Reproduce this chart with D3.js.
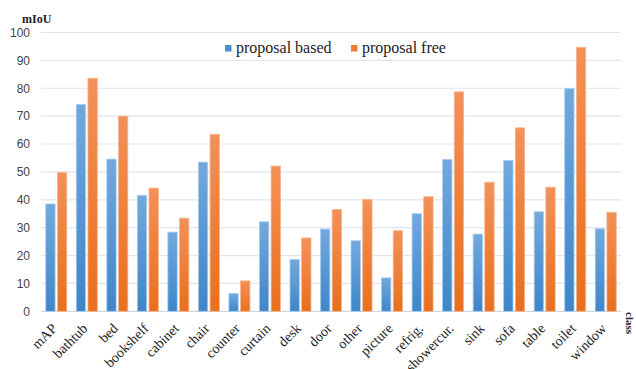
<!DOCTYPE html>
<html><head><meta charset="utf-8">
<script src="https://cdn.jsdelivr.net/npm/d3@7"></script>
<style>body{margin:0;background:#fff;}</style>
</head><body>
<svg id="c" width="636" height="369"></svg>
<script>
const categories = ["mAP","bathtub","bed","bookshelf","cabinet","chair","counter","curtain","desk","door","other","picture","refrig.","showercur.","sink","sofa","table","toilet","window"];
const proposalBased = [38.5,74.2,54.6,41.6,28.4,53.5,6.4,32.1,18.6,29.5,25.3,12.0,35.0,54.5,27.7,54.1,35.7,79.9,29.6];
const proposalFree  = [49.8,83.6,70.0,44.2,33.4,63.5,10.9,52.1,26.3,36.5,40.1,28.9,41.1,78.7,46.3,65.8,44.5,94.7,35.5];
const seriesNames = ["proposal based","proposal free"];
const yTicks = [0,10,20,30,40,50,60,70,80,90,100];

const svg = d3.select("#c");
const L = 41, R = 621, T = 32.5, B = 311.3;
const x = d3.scaleBand().domain(categories).range([L, R]).padding(0);
const pad = 4.75;
const xs = d3.scaleBand().domain(seriesNames).range([pad, x.bandwidth() - pad]).paddingInner(0.2);
const y = d3.scaleLinear().domain([0,100]).range([B, T]);

const defs = svg.append("defs");
const gb = defs.append("linearGradient").attr("id","gb").attr("x1",0).attr("y1",0).attr("x2",0).attr("y2",1);
gb.append("stop").attr("offset","0%").attr("stop-color","#72a9de");
gb.append("stop").attr("offset","100%").attr("stop-color","#3f86c8");
const go = defs.append("linearGradient").attr("id","go").attr("x1",0).attr("y1",0).attr("x2",0).attr("y2",1);
go.append("stop").attr("offset","0%").attr("stop-color","#f39159");
go.append("stop").attr("offset","100%").attr("stop-color","#e8701e");

// grid
svg.append("g").selectAll("line").data(yTicks).join("line")
  .attr("x1", L).attr("x2", R).attr("y1", d => y(d)).attr("y2", d => y(d))
  .attr("stroke", d => d===0 ? "#d0d7e0" : "#e1e6ee").attr("stroke-width", 1.2);

// y axis tick labels
const yAxis = d3.axisLeft(y).tickValues(yTicks).tickSize(0).tickPadding(0);
const ya = svg.append("g").attr("transform", `translate(${L-11},0)`).call(yAxis);
ya.select(".domain").remove();
ya.selectAll("text").attr("font-family","Liberation Sans, Arial, sans-serif").attr("font-size",12).attr("fill","#444");

// bars
const series = [
  {name: seriesNames[0], values: proposalBased, fill: "url(#gb)", stroke: "#a9cbec"},
  {name: seriesNames[1], values: proposalFree, fill: "url(#go)", stroke: "#f6b48c"}
];
series.forEach(s => {
  svg.append("g").selectAll("rect").data(categories).join("rect")
    .attr("x", (d) => x(d) + xs(s.name))
    .attr("width", xs.bandwidth())
    .attr("y", (d,i) => y(s.values[i]))
    .attr("height", (d,i) => y(0) - y(s.values[i]))
    .attr("fill", s.fill).attr("stroke", s.stroke).attr("stroke-width", 0.8);
});

// x axis labels
const xAxis = d3.axisBottom(x).tickSize(0).tickPadding(0);
const xa = svg.append("g").attr("transform", `translate(0,${B})`).call(xAxis);
xa.select(".domain").remove();
xa.selectAll("text")
  .attr("font-family","Liberation Serif, Times New Roman, serif").attr("font-size",14).attr("fill","#222")
  .attr("text-anchor","end").attr("dy",0).attr("y",0)
  .attr("transform","translate(1.5,18) rotate(-45)");

// axis titles
svg.append("text").attr("x",22).attr("y",22.5).text("mIoU")
  .attr("font-family","Liberation Serif, serif").attr("font-weight","bold").attr("font-size",12).attr("fill","#222");
svg.append("text").attr("transform","translate(626,312) rotate(90)").text("class")
  .attr("font-family","Liberation Serif, serif").attr("font-weight","bold").attr("font-size",11).attr("fill","#222");

// legend
const leg = [{n: seriesNames[0], c:"#4a8fd0", x:225},{n: seriesNames[1], c:"#ee7a2f", x:351}];
const lg = svg.append("g").selectAll("g").data(leg).join("g").attr("transform", d => `translate(${d.x},0)`);
lg.append("rect").attr("x",0).attr("y",45).attr("width",6.5).attr("height",6.5).attr("fill", d => d.c);
lg.append("text").attr("x",11).attr("y",53).text(d => d.n)
  .attr("font-family","Liberation Serif, Times New Roman, serif").attr("font-size",16).attr("fill","#222");
</script>
</body></html>
